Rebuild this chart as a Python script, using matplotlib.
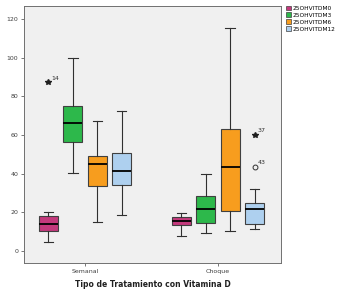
import numpy as np
import matplotlib
matplotlib.use('Agg')
import matplotlib.pyplot as plt
from matplotlib.patches import Patch

# Groups and series
groups = ['Semanal', 'Choque']
series = ['25OHVITDM0', '25OHVITDM3', '25OHVITDM6', '25OHVITDM12']
colors = ['#c4397c', '#2db84b', '#f79d1e', '#aed0ef']

# five-number summaries: (low whisker, q1, median, q3, high whisker)
semanal_stats = [
    (4.6, 10.4, 13.8, 18.0, 19.8),
    (40.3, 56.4, 66.4, 75.0, 100.0),
    (14.7, 33.6, 44.8, 49.3, 67.4),
    (18.5, 33.9, 41.2, 50.5, 72.6),
]
choque_stats = [
    (7.6, 13.2, 15.6, 17.3, 19.7),
    (9.3, 14.4, 21.6, 28.4, 39.9),
    (10.4, 20.6, 43.4, 63.0, 115.4),
    (11.4, 13.8, 21.6, 24.6, 31.8),
]

# outliers: (group, series index, value, case label, marker)
outliers = [
    (0, 0, 87.3, '14', '*'),
    (1, 3, 60.2, '37', '*'),
    (1, 3, 43.4, '43', 'o'),
]

yticks = [0, 20, 40, 60, 80, 100, 120]

fig = plt.figure(figsize=(3.47, 2.97), dpi=100)
ax = fig.add_axes([0.0692, 0.1145, 0.7406, 0.8653])
ax.set_facecolor('#f0f0f0')

offset = 0.184
width = 0.143
shifts = (np.arange(len(series)) - 1.5) * offset

for g, stats in enumerate([semanal_stats, choque_stats]):
    for i, (lo, q1, med, q3, hi) in enumerate(stats):
        pos = g + 1 + shifts[i]
        st = dict(whislo=lo, q1=q1, med=med, q3=q3, whishi=hi, fliers=[])
        ax.bxp([st], positions=[pos], widths=width, patch_artist=True,
               showfliers=False,
               boxprops=dict(facecolor=colors[i], edgecolor='#404040', linewidth=0.8),
               medianprops=dict(color='black', linewidth=1.3),
               whiskerprops=dict(color='#303030', linewidth=0.8),
               capprops=dict(color='#303030', linewidth=0.8),
               capwidths=width * 0.5)

for g, i, val, lab, mk in outliers:
    pos = g + 1 + shifts[i]
    if mk == '*':
        ax.plot(pos, val, marker='*', color='#202020', markersize=4, linestyle='none')
    else:
        ax.plot(pos, val, marker='o', markerfacecolor='none', markeredgecolor='#303030',
                markersize=3.5, markeredgewidth=0.7, linestyle='none')
    ax.annotate(lab, (pos, val), xytext=(2, 2), textcoords='offset points',
                fontsize=4.5, color='#303030')

ax.set_xlim(0.541, 2.474)
ax.set_ylim(-6.4, 126.9)
ax.set_yticks(yticks)
ax.set_yticklabels([str(t) for t in yticks])
ax.set_xticks([1, 2])
ax.set_xticklabels(groups)
ax.tick_params(axis='both', labelsize=4.5, labelcolor='#404040', color='#606060',
               length=2.5, width=0.6, pad=1.5)
for s in ax.spines.values():
    s.set_color('#707070')
    s.set_linewidth(0.7)

ax.set_xlabel('Tipo de Tratamiento con Vitamina D', fontsize=5.5, fontweight='bold',
              color='#202020', labelpad=5)

handles = [Patch(facecolor=c, edgecolor='#404040', linewidth=0.5) for c in colors]
fig.legend(handles, series, loc='upper left', bbox_to_anchor=(0.812, 0.995),
           frameon=False, fontsize=4.2, handlelength=0.9, handleheight=0.9,
           handletextpad=0.3, labelspacing=0.25, borderpad=0.2)

fig.savefig('out.png', dpi=100)
